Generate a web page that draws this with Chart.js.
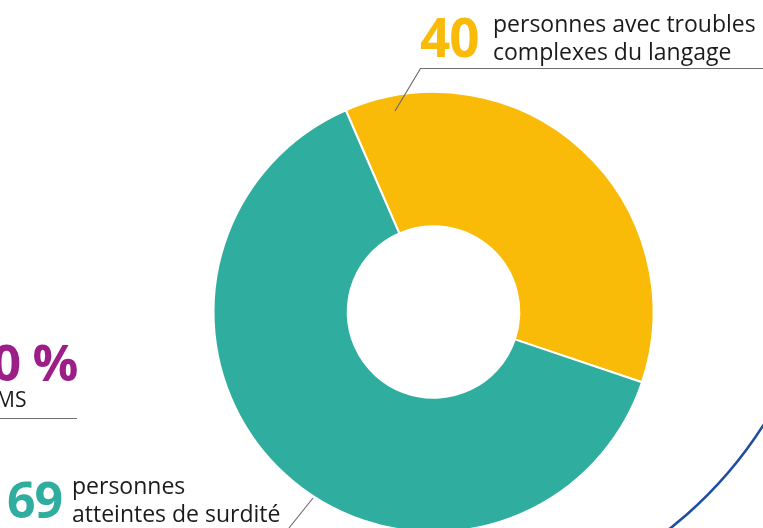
<!DOCTYPE html>
<html>
<head>
<meta charset="utf-8">
<script src="https://cdn.jsdelivr.net/npm/chart.js@4"></script>
<style>
  html, body { margin: 0; padding: 0; width: 763px; height: 528px; overflow: hidden; background: #fff; }
  #wrap { position: relative; width: 763px; height: 528px; }
  canvas { position: absolute; left: 0; top: 0; }
  .big { position: absolute; font-family: "Open Sans", sans-serif; font-weight: 700; line-height: 1; letter-spacing: -1px; }
  .lbl { position: absolute; font-family: "Open Sans", sans-serif; font-size: 23px; line-height: 28px; color: #1b1b1b; white-space: nowrap; }
</style>
</head>
<body>
<div id="wrap">
  <canvas id="c" width="763" height="540"></canvas>
  <div class="big" style="left:420px; top:10px; font-size:53px; color:#f9ba08;">40</div>
  <div class="lbl" style="left:493px; top:9px;">personnes avec troubles<br>complexes du langage</div>
  <div class="big" style="left:7px; top:474px; font-size:50px; color:#2fad9e;">69</div>
  <div class="lbl" style="left:72px; top:471px;">personnes<br>atteintes de surdité</div>
  <div class="big" style="left:-8px; top:336px; font-size:51px; color:#9c1f87;">0 %</div>
  <div class="lbl" style="left:-4px; top:385px; font-size:21px;">MS</div>
</div>
<script>
// values
const categories = ['personnes avec troubles complexes du langage', 'personnes atteintes de surdité'];
const counts = [40, 69];
const colours = ['#f9ba08', '#2fad9e'];

// leader lines, underline rules and the blue arc of the next graphic
const decoration = {
  id: 'decoration',
  afterDraw(chart) {
    const ctx = chart.ctx;
    ctx.save();
    ctx.strokeStyle = '#6d6d6d';
    ctx.lineWidth = 1.2;
    ctx.beginPath();
    ctx.moveTo(395, 111); ctx.lineTo(420.5, 68.5); ctx.lineTo(763, 68.5);
    ctx.moveTo(313, 498); ctx.lineTo(289, 528);
    ctx.moveTo(0, 418.5); ctx.lineTo(77, 418.5);
    ctx.stroke();
    ctx.strokeStyle = '#1f4e9e';
    ctx.lineWidth = 2.5;
    ctx.beginPath();
    ctx.arc(410, 200, 419, 0.3, 1.4);
    ctx.stroke();
    ctx.restore();
  }
};

new Chart(document.getElementById('c'), {
  type: 'doughnut',
  data: {
    labels: categories,
    datasets: [{
      data: counts,
      backgroundColor: colours,
      borderColor: '#ffffff',
      borderWidth: 2
    }]
  },
  options: {
    responsive: false,
    animation: false,
    rotation: -23.5,
    cutout: '39%',
    layout: { padding: { left: 212, right: 108, top: 91, bottom: 7 } },
    plugins: { legend: { display: false }, tooltip: { enabled: false } }
  },
  plugins: [decoration]
});
</script>
</body>
</html>
